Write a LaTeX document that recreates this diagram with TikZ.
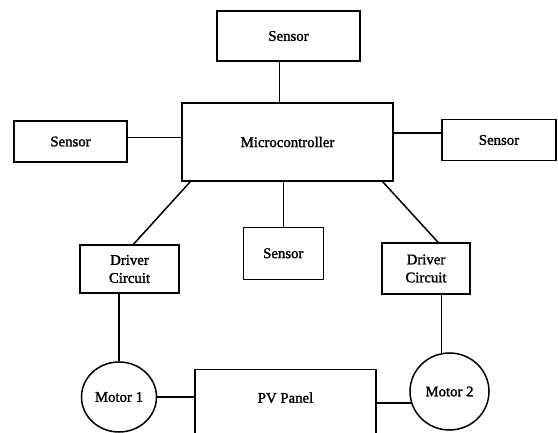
\documentclass[tikz,border=0pt]{standalone}
\usepackage{fontspec}
\setmainfont{Liberation Serif}[RawFeature={embolden=1.6}]
\usetikzlibrary{shapes.geometric}
\begin{document}
\begin{tikzpicture}[x=1pt, y=-1pt, line width=1.5pt,
		blk/.style={draw, inner sep=2pt, font=\fontsize{14.8}{18}\selectfont, align=center},
		motor/.style={draw, ellipse, inner sep=0pt, font=\fontsize{14.8}{18}\selectfont}]
		\useasboundingbox (0, 0) rectangle (558, 433);
		% blocks
		\node[blk, minimum width=143, minimum height=50] (sensTop) at (288.5, 36) {Sensor};
		\node[blk, minimum width=211, minimum height=78] (micro) at (287.5, 142) {Microcontroller};
		\node[blk, minimum width=113, minimum height=41] (sensL) at (70.5, 141.5) {Sensor};
		\node[blk, minimum width=114, minimum height=41] (sensR) at (499, 140) {Sensor};
		\node[blk, minimum width=80, minimum height=52] (sensM) at (283.3, 253.3) {Sensor};
		\node[blk, minimum width=99, minimum height=48] (drvL) at (129.5, 269) {Driver\\Circuit};
		\node[blk, minimum width=88, minimum height=51] (drvR) at (426, 268.5) {Driver\\Circuit};
		\node[blk, anchor=north, minimum width=181, text height=30pt, text depth=38pt, inner sep=3pt] (pv) at (285.5, 369) {PV Panel};
		\node[motor, minimum width=75, minimum height=70] (mot1) at (119, 397) {Motor 1};
		\node[motor, minimum width=79, minimum height=77] (mot2) at (449.5, 391.5) {Motor 2};
		% connections
		\draw ([xshift=-9pt]sensTop.south) -- ([xshift=-9pt]sensTop.south |- micro.north);
		\draw ([yshift=4pt]sensL.east) -- ([yshift=4pt]sensL.east -| micro.west);
		\draw ([yshift=7pt]sensR.west) -- ([yshift=7pt]sensR.west -| micro.east);
		\draw (sensM.north) -- (sensM.north |- micro.south);
		\draw ([xshift=9pt]micro.south west) -- ([xshift=4pt]drvL.north);
		\draw ([xshift=-11pt]micro.south east) -- ([xshift=12pt]drvR.north);
		\draw (mot1.north |- drvL.south) -- (mot1.north);
		\draw (mot2.102 |- drvR.south) -- (mot2.102);
		\draw (mot1.east) -- (mot1.east -| pv.west);
		\draw (mot2.197) -- (mot2.197 -| pv.east);
	\end{tikzpicture}
\end{document}
